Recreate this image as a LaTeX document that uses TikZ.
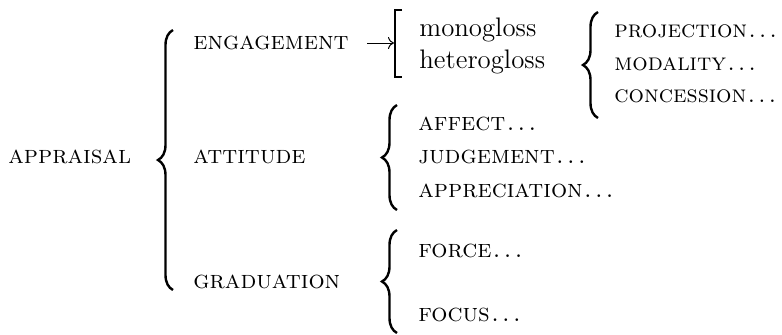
\documentclass[tikz,border=0pt]{standalone}
\usetikzlibrary{arrows.meta,decorations.pathreplacing}
\tikzset{
  every node/.style={inner sep=0pt, anchor=base west},
  sysname/.style={font=\fontsize{12.7}{15}\selectfont\scshape},
  narrowname/.style={font=\fontsize{12.1}{15}\selectfont\scshape},
  feature/.style={font=\fontsize{13.4}{16}\selectfont},
  choice/.style={draw, line width=1.2pt, decorate, decoration={brace, amplitude=7.5pt}},
  bracket/.style={draw, line width=0.6pt},
  realise/.style={-{Computer Modern Rightarrow[length=3pt,width=6pt]}, line width=0.5pt},
}
\newcommand{\more}{\kern0.6pt.\kern1.4pt.\kern1.4pt.}
\begin{document}
\begin{tikzpicture}[x=0.5pt, y=-0.5pt]
  \useasboundingbox (0,0) rectangle (782,334);
  % Entry condition and its simultaneous systems
  \node[sysname] (appraisal) at (8,163) {appraisal};
  \draw[choice] (173,290) -- (173,30);
  \node[sysname] (engage) at (193,49) {engagement};
  \node[sysname] (attitude) at (193,163) {attitude};
  \node[sysname] (graduation) at (193,288) {graduation};
  % Engagement
  \coordinate (gloss) at (394,43);
  \draw[realise] ([xshift=9pt]engage.east |- gloss) -- (gloss);
  \draw[bracket] (402,10) -- (395,10) -- (395,77) -- (402,77);
  \node[feature] (mono) at (419,36) {monogloss};
  \node[feature] (hetero) at (419,68) {heterogloss};
  \draw[choice] (598,118) -- (598,12);
  \foreach \name/\y/\txt in {proj/37/projection, modal/70/modality, concess/102/concession}
    \node[narrowname] (\name) at (614,\y) {\txt\more};
  % Attitude
  \draw[choice] (397,210) -- (397,105);
  \foreach \name/\y/\txt in {affect/130/affect, judge/163/judgement, apprec/197/appreciation}
    \node[sysname] (\name) at (418,\y) {\txt\more};
  % Graduation
  \draw[choice] (397,333) -- (397,230);
  \foreach \name/\y/\txt in {force/257/force, focus/321/focus}
    \node[sysname] (\name) at (418,\y) {\txt\more};
\end{tikzpicture}
\end{document}
